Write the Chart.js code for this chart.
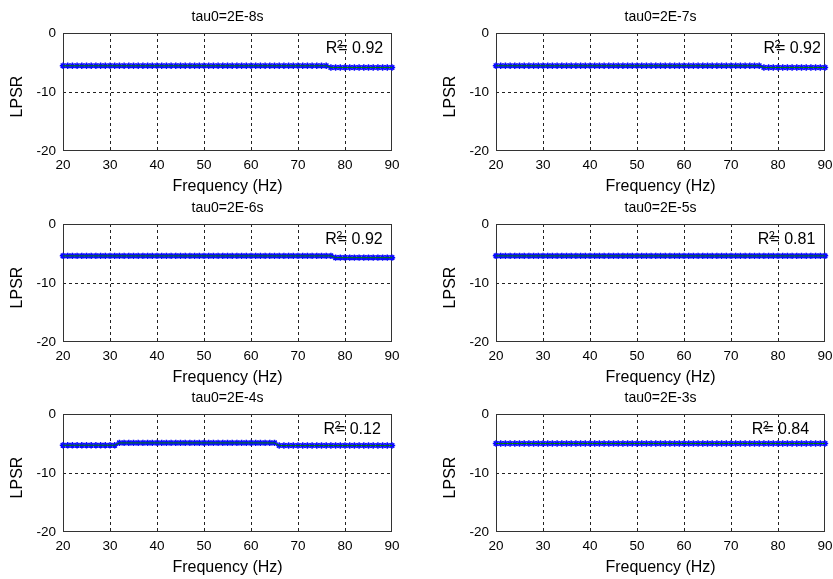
<!DOCTYPE html>
<html><head><meta charset="utf-8">
<script src="https://cdn.jsdelivr.net/npm/chart.js@4.4.0/dist/chart.umd.min.js"></script>
<style>
html,body{margin:0;padding:0;background:#fff;}
body{width:833px;height:579px;position:relative;overflow:hidden;}
canvas{position:absolute;}
</style></head><body>
<canvas id="c0" width="400" height="193" style="left:0px;top:3px"></canvas>
<canvas id="c1" width="400" height="193" style="left:433px;top:3px"></canvas>
<canvas id="c2" width="400" height="193" style="left:0px;top:194px"></canvas>
<canvas id="c3" width="400" height="193" style="left:433px;top:194px"></canvas>
<canvas id="c4" width="400" height="193" style="left:0px;top:384px"></canvas>
<canvas id="c5" width="400" height="193" style="left:433px;top:384px"></canvas>
<script>
const frequencies = [20,21,22,23,24,25,26,27,28,29,30,31,32,33,34,35,36,37,38,39,40,41,42,43,44,45,46,47,48,49,50,51,52,53,54,55,56,57,58,59,60,61,62,63,64,65,66,67,68,69,70,71,72,73,74,75,76,77,78,79,80,81,82,83,84,85,86,87,88,89,90];
const titles = ['tau0=2E-8s','tau0=2E-7s','tau0=2E-6s','tau0=2E-5s','tau0=2E-4s','tau0=2E-3s'];
const rSquared = ['0.92','0.92','0.92','0.81','0.12','0.84'];
const rLabelX = [75.9,76.9,75.8,75.7,75.4,74.4];
const xTicks = [20,30,40,50,60,70,80,90];
const yTicks = [0,-10,-20];

const lpsr_2E8 = [
-5.55,-5.55,-5.55,-5.55,-5.55,-5.55,-5.55,-5.55,-5.55,-5.55,
-5.55,-5.55,-5.55,-5.55,-5.55,-5.55,-5.55,-5.55,-5.55,-5.55,
-5.55,-5.55,-5.55,-5.55,-5.55,-5.55,-5.55,-5.55,-5.55,-5.55,
-5.55,-5.55,-5.55,-5.55,-5.55,-5.55,-5.55,-5.55,-5.55,-5.55,
-5.55,-5.55,-5.55,-5.55,-5.55,-5.55,-5.55,-5.55,-5.55,-5.55,
-5.55,-5.55,-5.55,-5.55,-5.55,-5.55,-5.55,-5.85,-5.85,-5.85,
-5.85,-5.85,-5.85,-5.85,-5.85,-5.85,-5.85,-5.85,-5.85,-5.85,
-5.85];
const lpsr_2E7 = [
-5.55,-5.55,-5.55,-5.55,-5.55,-5.55,-5.55,-5.55,-5.55,-5.55,
-5.55,-5.55,-5.55,-5.55,-5.55,-5.55,-5.55,-5.55,-5.55,-5.55,
-5.55,-5.55,-5.55,-5.55,-5.55,-5.55,-5.55,-5.55,-5.55,-5.55,
-5.55,-5.55,-5.55,-5.55,-5.55,-5.55,-5.55,-5.55,-5.55,-5.55,
-5.55,-5.55,-5.55,-5.55,-5.55,-5.55,-5.55,-5.55,-5.55,-5.55,
-5.55,-5.55,-5.55,-5.55,-5.55,-5.55,-5.55,-5.85,-5.85,-5.85,
-5.85,-5.85,-5.85,-5.85,-5.85,-5.85,-5.85,-5.85,-5.85,-5.85,
-5.85];
const lpsr_2E6 = [
-5.4,-5.4,-5.4,-5.4,-5.4,-5.4,-5.4,-5.4,-5.4,-5.4,
-5.4,-5.4,-5.4,-5.4,-5.4,-5.4,-5.4,-5.4,-5.4,-5.4,
-5.4,-5.4,-5.4,-5.4,-5.4,-5.4,-5.4,-5.4,-5.4,-5.4,
-5.4,-5.4,-5.4,-5.4,-5.4,-5.4,-5.4,-5.4,-5.4,-5.4,
-5.4,-5.4,-5.4,-5.4,-5.4,-5.4,-5.4,-5.4,-5.4,-5.4,
-5.4,-5.4,-5.4,-5.4,-5.4,-5.4,-5.4,-5.4,-5.7,-5.7,
-5.7,-5.7,-5.7,-5.7,-5.7,-5.7,-5.7,-5.7,-5.7,-5.7,
-5.7];
const lpsr_2E5 = [
-5.4,-5.4,-5.4,-5.4,-5.4,-5.4,-5.4,-5.4,-5.4,-5.4,
-5.4,-5.4,-5.4,-5.4,-5.4,-5.4,-5.4,-5.4,-5.4,-5.4,
-5.4,-5.4,-5.4,-5.4,-5.4,-5.4,-5.4,-5.4,-5.4,-5.4,
-5.4,-5.4,-5.4,-5.4,-5.4,-5.4,-5.4,-5.4,-5.4,-5.4,
-5.4,-5.4,-5.4,-5.4,-5.4,-5.4,-5.4,-5.4,-5.4,-5.4,
-5.4,-5.4,-5.4,-5.4,-5.4,-5.4,-5.4,-5.4,-5.4,-5.4,
-5.4,-5.4,-5.4,-5.4,-5.4,-5.4,-5.4,-5.4,-5.4,-5.4,
-5.4];
const lpsr_2E4 = [
-5.3,-5.3,-5.3,-5.3,-5.3,-5.3,-5.3,-5.3,-5.3,-5.3,
-5.3,-5.3,-4.9,-4.9,-4.9,-4.9,-4.9,-4.9,-4.9,-4.9,
-4.9,-4.9,-4.9,-4.9,-4.9,-4.9,-4.9,-4.9,-4.9,-4.9,
-4.9,-4.9,-4.9,-4.9,-4.9,-4.9,-4.9,-4.9,-4.9,-4.9,
-4.9,-4.9,-4.9,-4.9,-4.9,-4.9,-5.35,-5.35,-5.35,-5.35,
-5.35,-5.35,-5.35,-5.35,-5.35,-5.35,-5.35,-5.35,-5.35,-5.35,
-5.35,-5.35,-5.35,-5.35,-5.35,-5.35,-5.35,-5.35,-5.35,-5.35,
-5.35];
const lpsr_2E3 = [
-5.0,-5.0,-5.0,-5.0,-5.0,-5.0,-5.0,-5.0,-5.0,-5.0,
-5.0,-5.0,-5.0,-5.0,-5.0,-5.0,-5.0,-5.0,-5.0,-5.0,
-5.0,-5.0,-5.0,-5.0,-5.0,-5.0,-5.0,-5.0,-5.0,-5.0,
-5.0,-5.0,-5.0,-5.0,-5.0,-5.0,-5.0,-5.0,-5.0,-5.0,
-5.0,-5.0,-5.0,-5.0,-5.0,-5.0,-5.0,-5.0,-5.0,-5.0,
-5.0,-5.0,-5.0,-5.0,-5.0,-5.0,-5.0,-5.0,-5.0,-5.0,
-5.0,-5.0,-5.0,-5.0,-5.0,-5.0,-5.0,-5.0,-5.0,-5.0,
-5.0];
const series = [lpsr_2E8, lpsr_2E7, lpsr_2E6, lpsr_2E5, lpsr_2E4, lpsr_2E3];

const FONT = "'Liberation Sans', Arial, sans-serif";

const decor = {
  id: 'decor',
  beforeDatasetsDraw(chart) {
    const {ctx, chartArea: a} = chart;
    ctx.save();
    ctx.strokeStyle = '#333';
    ctx.lineWidth = 1;
    ctx.strokeRect(Math.round(a.left) + 0.5, Math.round(a.top) + 0.5, Math.round(a.right - a.left) - 1, Math.round(a.bottom - a.top) - 1);
    ctx.restore();
  },
  afterDraw(chart, args, opts) {
    const {ctx, chartArea: a, scales} = chart;
    const i = opts.index;
    ctx.save();
    ctx.fillStyle = '#000';
    ctx.font = '14px ' + FONT;
    ctx.textAlign = 'center';
    ctx.textBaseline = 'middle';
    ctx.fillText(titles[i], (a.left + a.right) / 2, a.top - 15.5);
    ctx.save();
    ctx.translate(a.left - 45.5, (a.top + a.bottom) / 2 + 4.5);
    ctx.rotate(-Math.PI / 2);
    ctx.font = '16px ' + FONT;
    ctx.fillText('LPSR', 0, 0);
    ctx.restore();
    const x = scales.x.getPixelForValue(rLabelX[i]);
    const y = scales.y.getPixelForValue(-3.4);
    ctx.textAlign = 'left';
    ctx.textBaseline = 'alphabetic';
    ctx.font = '16px ' + FONT;
    const wR = ctx.measureText('R').width;
    ctx.fillText('R', x, y);
    ctx.fillText('= ' + rSquared[i], x + wR + 1, y);
    ctx.font = '11px ' + FONT;
    ctx.fillText('2', x + wR - 0.5, y - 5);
    ctx.restore();
  }
};

series.forEach((vals, i) => {
  const pts = frequencies.map((f, k) => ({x: f, y: vals[k]}));
  const edgeColor = (v, a, b) => (v === a || v === b) ? 'rgba(0,0,0,0)' : '#222';
  new Chart(document.getElementById('c' + i), {
    type: 'line',
    data: {
      datasets: [
        {
          label: 'fit',
          data: pts,
          borderColor: '#008000',
          borderWidth: 1,
          pointRadius: 0,
          fill: false,
          order: 0
        },
        {
          label: 'LPSR',
          data: pts,
          showLine: false,
          pointStyle: 'star',
          pointRadius: 3.2,
          pointBorderWidth: 1.5,
          pointBorderColor: '#0a0aff',
          pointBackgroundColor: '#0a0aff',
          clip: 6,
          order: 1
        }
      ]
    },
    options: {
      responsive: false,
      animation: false,
      devicePixelRatio: 1,
      layout: {padding: {left: 0, right: 8, top: 30, bottom: 0}},
      plugins: {legend: {display: false}, tooltip: {enabled: false}, decor: {index: i}},
      scales: {
        x: {
          type: 'linear', min: 20, max: 90,
          afterBuildTicks: s => { s.ticks = xTicks.map(v => ({value: v})); },
          afterFit: s => { s.height = 45; s.paddingRight = 0; s.paddingLeft = 0; },
          ticks: {padding: 6, color: '#000', font: {family: FONT, size: 13.5}, maxRotation: 0, autoSkip: false},
          grid: {drawTicks: false, color: c => edgeColor(c.tick && c.tick.value, 20, 90), lineWidth: 1, borderDash: [3, 3]},
          border: {display: false, dash: [3, 3]},
          title: {display: true, text: 'Frequency (Hz)', color: '#000', font: {family: FONT, size: 16}, padding: {top: 0, bottom: 0}}
        },
        y: {
          type: 'linear', min: -20, max: 0,
          afterBuildTicks: s => { s.ticks = yTicks.map(v => ({value: v})); },
          afterFit: s => { s.width = 63; },
          ticks: {padding: 7, color: '#000', font: {family: FONT, size: 13.5}},
          grid: {drawTicks: false, color: c => edgeColor(c.tick && c.tick.value, 0, -20), lineWidth: 1, borderDash: [3, 3]},
          border: {display: false, dash: [3, 3]}
        }
      }
    },
    plugins: [decor]
  });
});
</script>
</body></html>
